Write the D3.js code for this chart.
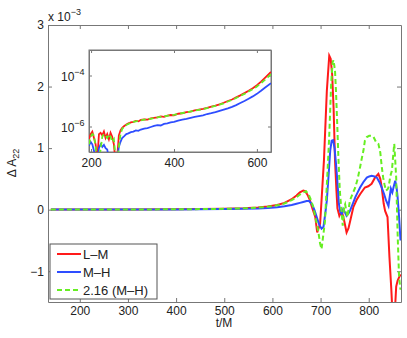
<!DOCTYPE html>
<meta charset="utf-8">
<script src="https://d3js.org/d3.v7.min.js"></script>
<style>
    body { margin: 0; background: #fff; }
    text { font-family: "Liberation Sans", Arial, sans-serif; fill: #222; }
</style>
<div id="chart"></div>
<script>
    // ---------- data (main panel, units of 1e-3) ----------
    var redT = [140,200,300,400,450,500,540,570,590,610,625,640,650,657,664,668,673,678,683,689,693,696,699,702,707,713,718,721,724,727,730,733,735,739,744,749,754,758,761,768,775,782,792,799,806,813,820,824,827,831,834,839,843,847,850,854,857,860,863,866];
    var redV = [0.002,0.002,0.003,0.006,0.009,0.014,0.022,0.034,0.05,0.075,0.11,0.17,0.23,0.28,0.31,0.3,0.24,0.15,0.02,-0.12,-0.37,-0.3,-0.23,0.15,0.8,1.93,2.5,2.45,2.2,1.66,0.8,0.3,0.02,-0.1,-0.02,-0.18,-0.37,-0.3,-0.2,0.04,0.16,0.25,0.36,0.38,0.42,0.52,0.58,0.5,0.36,0.1,-0.02,-0.12,-0.77,-1.31,-1.8,-1.7,-1.25,-1.15,-1.1,-1.05];

    var blueT = [140,200,300,400,450,500,540,570,590,610,625,640,650,657,664,671,676,682,687,692,697,702,706,710,713,717,720,723,726,729,732,735,738,741,744,747,751,754,758,761,767,772,777,782,789,796,801,806,812,817,822,827,832,836,841,843,846,849,852,855,858,860,863,866];
    var blueV = [0.001,0.001,0.002,0.004,0.006,0.009,0.014,0.02,0.028,0.04,0.055,0.075,0.095,0.11,0.125,0.14,0.14,0.09,0.0,-0.12,-0.24,-0.31,-0.28,-0.05,0.15,0.6,0.96,1.12,1.13,1.0,0.75,0.45,0.1,-0.04,-0.07,0.01,-0.05,-0.1,-0.06,-0.02,0.1,0.2,0.28,0.36,0.45,0.52,0.54,0.55,0.54,0.52,0.45,0.36,0.25,0.15,0.06,0.18,0.34,0.28,0.38,0.47,0.35,0.2,-0.12,-0.5];

    var greenT = [140,200,300,400,450,500,540,570,590,610,625,640,650,657,664,670,675,680,685,690,695,699,702,705,709,714,718,722,725,727,730,732,735,737,740,744,746,749,751,754,756,758,761,766,772,777,782,786,789,792,796,801,806,810,815,820,824,827,830,833,836,839,841,845,848,851,853,855,857,860,863,866];
    var greenV = [0.002,0.002,0.003,0.006,0.009,0.013,0.021,0.032,0.047,0.07,0.1,0.155,0.2,0.245,0.28,0.3,0.25,0.16,0.04,-0.15,-0.34,-0.55,-0.64,-0.45,-0.2,0.55,1.2,2.05,2.4,2.43,2.25,1.93,1.3,0.85,0.3,-0.07,-0.26,0.05,0.09,-0.05,-0.12,0.0,0.15,0.25,0.36,0.5,0.69,0.85,0.96,1.12,1.18,1.2,1.2,1.18,1.1,1.07,0.93,0.7,0.52,0.4,0.31,0.33,0.36,0.55,0.63,0.9,1.07,0.8,0.52,-0.4,-1.1,-1.3];

    // ---------- data (inset, log10 of |dA|) ----------
    var insetT = [195,199,203,207,211,215,219,223,227,231,235,239,243,247,251,255,259,263,267,271,275,280,285,290,296,302,308,314,320,328,336,344,352,360,368,376,384,392,400,410,420,430,440,450,460,470,480,490,500,510,520,530,540,550,560,570,580,590,600,610,620,634];
    var insetRed = [-6.5,-6.3,-6.2,-6.45,-6.7,-7.3,-6.3,-6.25,-6.35,-6.2,-6.45,-6.3,-6.5,-6.25,-6.4,-6.7,-7.4,-7.2,-6.35,-6.15,-6.05,-5.98,-5.92,-5.88,-5.84,-5.82,-5.78,-5.8,-5.74,-5.72,-5.73,-5.68,-5.66,-5.64,-5.6,-5.62,-5.57,-5.55,-5.56,-5.5,-5.48,-5.44,-5.42,-5.37,-5.34,-5.31,-5.27,-5.22,-5.18,-5.13,-5.07,-5.0,-4.94,-4.86,-4.78,-4.69,-4.6,-4.5,-4.38,-4.24,-4.08,-3.86];
    var insetBlue = [-6.75,-6.6,-6.7,-6.95,-7.3,-7.4,-6.85,-6.7,-6.8,-6.72,-6.85,-6.9,-7.3,-7.5,-7.4,-7.5,-7.5,-7.3,-6.8,-6.6,-6.45,-6.38,-6.3,-6.27,-6.22,-6.2,-6.15,-6.17,-6.12,-6.08,-6.06,-6.02,-5.98,-5.95,-5.96,-5.9,-5.88,-5.84,-5.82,-5.77,-5.73,-5.7,-5.66,-5.62,-5.59,-5.56,-5.51,-5.48,-5.44,-5.39,-5.34,-5.29,-5.23,-5.16,-5.08,-5.0,-4.91,-4.82,-4.72,-4.6,-4.47,-4.3];
    var insetGreen = [-6.7,-6.4,-6.3,-6.35,-6.8,-7.4,-7.3,-6.9,-6.4,-6.3,-6.35,-6.45,-6.3,-6.4,-6.6,-6.5,-7.2,-7.4,-6.8,-6.3,-6.1,-6.0,-5.94,-5.9,-5.86,-5.82,-5.8,-5.78,-5.76,-5.73,-5.71,-5.7,-5.67,-5.64,-5.62,-5.6,-5.58,-5.56,-5.54,-5.51,-5.47,-5.45,-5.41,-5.38,-5.35,-5.32,-5.28,-5.23,-5.19,-5.14,-5.09,-5.02,-4.96,-4.88,-4.8,-4.72,-4.63,-4.54,-4.43,-4.3,-4.16,-3.95];

    var xTicks = [200,300,400,500,600,700,800];
    var yTicks = [-1,0,1,2,3];
    var insetXTicks = [200,400,600];
    var insetYExp = [-6,-4];
    var seriesNames = ["L\u2013M", "M\u2013H", "2.16 (M\u2013H)"];
    var seriesColors = ["#ff1a1a", "#2e4dff", "#66ee22"];

    var svg = d3.select("#chart").append("svg")
        .attr("width", 407).attr("height", 338);

    // ---------- main axes ----------
    var x = d3.scaleLinear().domain([134, 867]).range([48, 401]);
    var y = d3.scaleLinear().domain([-1.5, 3]).range([302, 25]);

    svg.append("defs").append("clipPath").attr("id", "clipMain")
        .append("rect").attr("x", 48).attr("y", 25).attr("width", 353).attr("height", 277);

    function styleAxis(g) {
        g.selectAll(".domain").attr("stroke", "#777");
        g.selectAll(".tick line").attr("stroke", "#777");
        g.selectAll("text").style("font-size", "12px").attr("fill", "#222");
    }

    svg.append("g").attr("transform", "translate(0,302)")
        .call(d3.axisBottom(x).tickValues(xTicks).tickSizeInner(-4).tickSizeOuter(0).tickPadding(4))
        .call(styleAxis);
    svg.append("g").attr("transform", "translate(0,25)")
        .call(d3.axisTop(x).tickValues(xTicks).tickSizeInner(-4).tickSizeOuter(0).tickFormat(""))
        .call(styleAxis);
    svg.append("g").attr("transform", "translate(48,0)")
        .call(d3.axisLeft(y).tickValues(yTicks).tickSizeInner(-4).tickSizeOuter(0).tickPadding(4)
            .tickFormat(d3.format("d")))
        .call(styleAxis);
    svg.append("g").attr("transform", "translate(401,0)")
        .call(d3.axisRight(y).tickValues(yTicks).tickSizeInner(-4).tickSizeOuter(0).tickFormat(""))
        .call(styleAxis);

    // x 10^-3 multiplier
    var mult = svg.append("text").attr("x", 48).attr("y", 21).style("font-size", "12px");
    mult.append("tspan").text("x 10");
    mult.append("tspan").attr("dy", -6).style("font-size", "9px").text("\u22123");

    // axis labels
    svg.append("text").attr("x", 224).attr("y", 327).attr("text-anchor", "middle")
        .style("font-size", "12px").text("t/M");
    var yl = svg.append("text").attr("transform", "translate(16,163) rotate(-90)")
        .attr("text-anchor", "middle").style("font-size", "12px");
    yl.append("tspan").text("\u0394 A");
    yl.append("tspan").attr("dy", 3).style("font-size", "9px").text("22");

    // ---------- main lines ----------
    var line = d3.line().x(function (d) { return x(d.t); }).y(function (d) { return y(d.v); });
    function pairs(ts, vs) { return ts.map(function (t, i) { return { t: t, v: vs[i] }; }); }
    var mainSeries = [pairs(redT, redV), pairs(blueT, blueV), pairs(greenT, greenV)];

    var plot = svg.append("g").attr("clip-path", "url(#clipMain)");
    mainSeries.forEach(function (s, i) {
        plot.append("path").datum(s)
            .attr("d", line)
            .attr("fill", "none")
            .attr("stroke", seriesColors[i])
            .attr("stroke-width", 2)
            .attr("stroke-dasharray", i == 2 ? "5,3" : null);
    });

    // ---------- inset ----------
    var ix = d3.scaleLinear().domain([195, 634]).range([89, 271]);
    var iy = d3.scaleLog().domain([1e-7, 1e-3]).range([152, 50]);

    svg.append("rect").attr("x", 89).attr("y", 50).attr("width", 182).attr("height", 102)
        .attr("fill", "#fff").attr("stroke", "#777");
    svg.append("defs").append("clipPath").attr("id", "clipInset")
        .append("rect").attr("x", 89).attr("y", 50).attr("width", 182).attr("height", 102);

    var insetYTicks = insetYExp.map(function (e) { return Math.pow(10, e); });
    svg.append("g").attr("transform", "translate(0,152)")
        .call(d3.axisBottom(ix).tickValues(insetXTicks).tickSizeInner(-3).tickSizeOuter(0).tickPadding(6))
        .call(styleAxis);
    svg.append("g").attr("transform", "translate(0,50)")
        .call(d3.axisTop(ix).tickValues(insetXTicks).tickSizeInner(-3).tickSizeOuter(0).tickFormat(""))
        .call(styleAxis);
    svg.append("g").attr("transform", "translate(89,0)")
        .call(d3.axisLeft(iy).tickValues(insetYTicks).tickSizeInner(-3).tickSizeOuter(0).tickFormat(""))
        .call(styleAxis);
    svg.append("g").attr("transform", "translate(271,0)")
        .call(d3.axisRight(iy).tickValues(insetYTicks).tickSizeInner(-3).tickSizeOuter(0).tickFormat(""))
        .call(styleAxis);

    insetYExp.forEach(function (e) {
        var t = svg.append("text").attr("x", 61).attr("y", iy(Math.pow(10, e)) + 5)
            .style("font-size", "12px");
        t.append("tspan").text("10");
        t.append("tspan").attr("dy", -6).style("font-size", "9px").text("\u2212" + (-e));
    });

    var iline = d3.line().x(function (d) { return ix(d.t); }).y(function (d) { return iy(Math.pow(10, d.v)); });
    var insetSeries = [pairs(insetT, insetRed), pairs(insetT, insetBlue), pairs(insetT, insetGreen)];
    var iplot = svg.append("g").attr("clip-path", "url(#clipInset)");
    insetSeries.forEach(function (s, i) {
        iplot.append("path").datum(s)
            .attr("d", iline)
            .attr("fill", "none")
            .attr("stroke", seriesColors[i])
            .attr("stroke-width", 1.8)
            .attr("stroke-dasharray", i == 2 ? "5,3" : null);
    });

    // ---------- legend ----------
    var lg = svg.append("g");
    lg.append("rect").attr("x", 50).attr("y", 244).attr("width", 107).attr("height", 55)
        .attr("fill", "#fff").attr("stroke", "#555");
    var rowY = [254, 272, 290];
    seriesNames.forEach(function (name, i) {
        lg.append("line").attr("x1", 57).attr("x2", 81).attr("y1", rowY[i]).attr("y2", rowY[i])
            .attr("stroke", seriesColors[i]).attr("stroke-width", 2)
            .attr("stroke-dasharray", i == 2 ? "5,3" : null);
        lg.append("text").attr("x", 83).attr("y", rowY[i] + 4.5)
            .style("font-size", "13px").text(name);
    });
</script>
